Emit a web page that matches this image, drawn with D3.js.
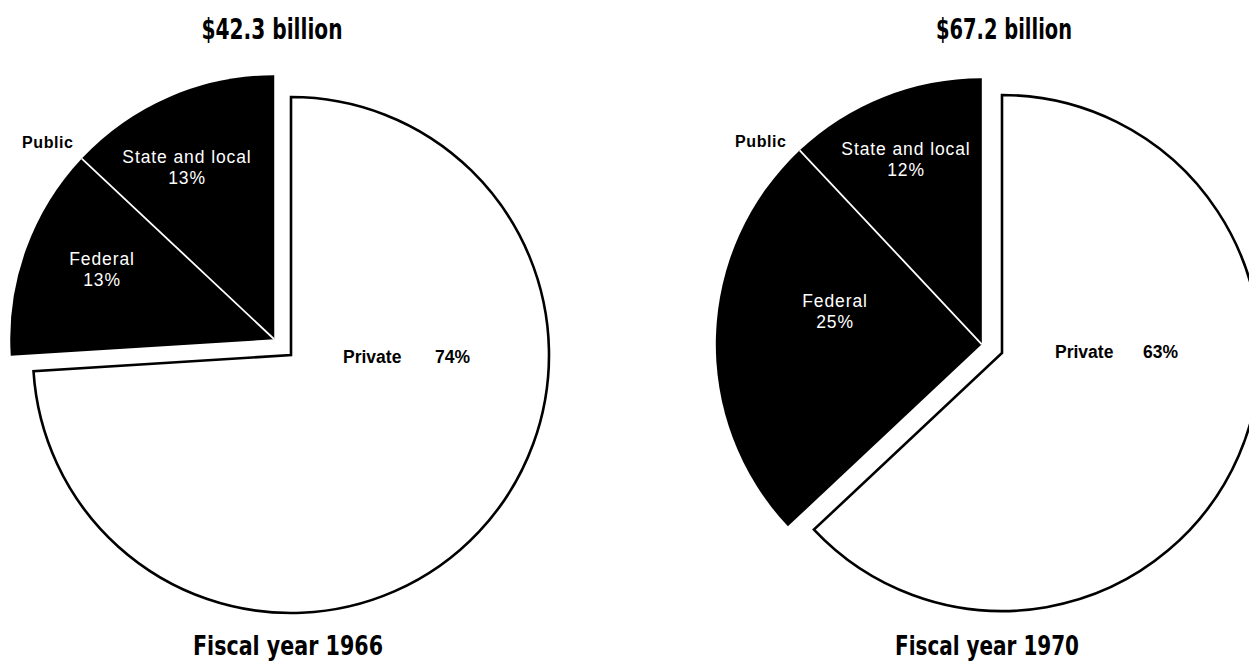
<!DOCTYPE html>
<html>
<head>
<meta charset="utf-8">
<script src="https://cdn.jsdelivr.net/npm/d3@7/dist/d3.min.js"></script>
<style>
  html, body { margin: 0; padding: 0; background: #fff; }
  svg { display: block; }
</style>
</head>
<body>
<svg id="chart" width="1249" height="662"></svg>
<script>
// ---- data ----
const years = ["Fiscal year 1966", "Fiscal year 1970"];
const totals = ["$42.3 billion", "$67.2 billion"];
const categories = ["Private", "Federal", "State and local"];
const shares1966 = [74, 13, 13];
const shares1970 = [63, 25, 12];
const groupLabel = "Public";

// ---- layout ----
const pies = [
  { cx: 291, cy: 355, r: 258, rPub: 264, explode: 23,
    titleX: 272, titleW: 141, footX: 288, footW: 190,
    values: shares1966,
    labelPos: { "Federal": [102, 265], "State and local": [187, 163] },
    publicPos: [22, 148], privPos: [343, 363], pctPos: [435, 363] },
  { cx: 1002, cy: 353, r: 258, rPub: 266, explode: 22,
    titleX: 1004, titleW: 136, footX: 987, footW: 184,
    values: shares1970,
    labelPos: { "Federal": [835, 307], "State and local": [906, 155] },
    publicPos: [735, 147], privPos: [1055, 358], pctPos: [1143, 358] }
];
pies[0].title = totals[0]; pies[0].foot = years[0];
pies[1].title = totals[1]; pies[1].foot = years[1];

const svg = d3.select("#chart");
const condensed = "'DejaVu Sans Condensed', 'DejaVu Sans', sans-serif";
const sans = "'Liberation Sans', Arial, Helvetica, sans-serif";

const pieGen = d3.pie().sort(null).value(d => d.v).startAngle(0).endAngle(2 * Math.PI);

pies.forEach(p => {
  const data = categories.map((c, i) => ({ c, v: p.values[i] }));
  const arcsData = pieGen(data);
  const g = svg.append("g").attr("transform", `translate(${p.cx},${p.cy})`);

  const priv = arcsData[0];
  const pub = arcsData.slice(1);
  const pubStart = pub[0].startAngle, pubEnd = pub[pub.length - 1].endAngle;
  const mid = (pubStart + pubEnd) / 2;
  const ox = p.explode * Math.sin(mid), oy = -p.explode * Math.cos(mid);

  // private slice
  const arcPriv = d3.arc().innerRadius(0).outerRadius(p.r);
  g.append("path")
    .attr("d", arcPriv(priv))
    .attr("fill", "#fff")
    .attr("stroke", "#000")
    .attr("stroke-width", 2.6)
    .attr("stroke-linejoin", "miter");

  // public slices (exploded)
  const arcPub = d3.arc().innerRadius(0).outerRadius(p.rPub);
  const gp = g.append("g").attr("transform", `translate(${ox},${oy})`);
  gp.selectAll("path.pub").data(pub).join("path")
    .attr("class", "pub")
    .attr("d", arcPub)
    .attr("fill", "#000");
  pub.slice(1).forEach(d => {
    const a = d.startAngle;
    gp.append("line")
      .attr("x1", 0).attr("y1", 0)
      .attr("x2", p.rPub * Math.sin(a)).attr("y2", -p.rPub * Math.cos(a))
      .attr("stroke", "#fff").attr("stroke-width", 1.8);
  });

  // slice labels
  pub.forEach(d => {
    const pos = p.labelPos[d.data.c];
    const t = svg.append("text")
      .attr("x", pos[0]).attr("y", pos[1])
      .attr("text-anchor", "middle")
      .attr("fill", "#fff")
      .attr("font-family", sans)
      .attr("font-size", 17.5)
      .attr("letter-spacing", 0.9);
    t.append("tspan").attr("x", pos[0]).attr("dy", 0).text(d.data.c);
    t.append("tspan").attr("x", pos[0]).attr("dy", 21).text(d.data.v + "%");
  });

  svg.append("text")
    .attr("x", p.publicPos[0]).attr("y", p.publicPos[1])
    .attr("font-family", sans).attr("font-weight", "bold")
    .attr("font-size", 16).attr("letter-spacing", 0.6)
    .attr("fill", "#000")
    .text(groupLabel);

  svg.append("text")
    .attr("x", p.privPos[0]).attr("y", p.privPos[1])
    .attr("font-family", sans).attr("font-weight", "bold")
    .attr("font-size", 17.5).attr("fill", "#000")
    .text(priv.data.c);
  svg.append("text")
    .attr("x", p.pctPos[0]).attr("y", p.pctPos[1])
    .attr("font-family", sans).attr("font-weight", "bold")
    .attr("font-size", 17.5).attr("fill", "#000")
    .text(priv.data.v + "%");

  // title and footer
  svg.append("text")
    .attr("x", p.titleX).attr("y", 39)
    .attr("text-anchor", "middle")
    .attr("font-family", condensed).attr("font-weight", "bold")
    .attr("font-size", 28)
    .attr("textLength", p.titleW).attr("lengthAdjust", "spacingAndGlyphs")
    .attr("fill", "#000")
    .text(p.title);
  svg.append("text")
    .attr("x", p.footX).attr("y", 655)
    .attr("text-anchor", "middle")
    .attr("font-family", condensed).attr("font-weight", "bold")
    .attr("font-size", 26)
    .attr("textLength", p.footW).attr("lengthAdjust", "spacingAndGlyphs")
    .attr("fill", "#000")
    .text(p.foot);
});
</script>
</body>
</html>
